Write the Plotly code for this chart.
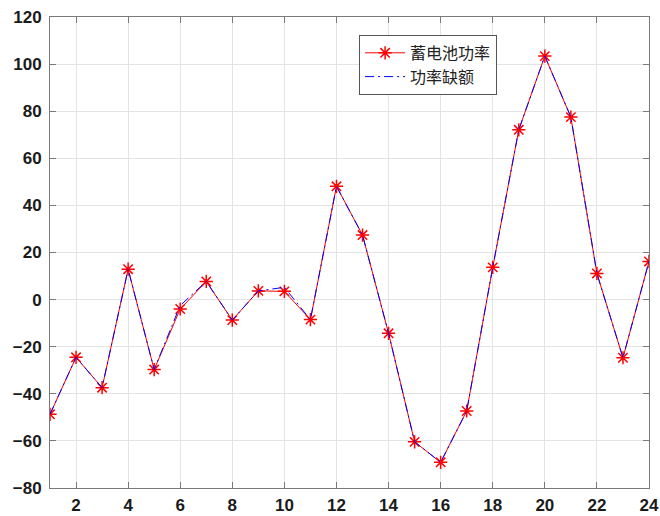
import plotly.graph_objects as go

# Hourly data (1..24)
hours = list(range(1, 25))
battery_power = [-48.7, -24.5, -37.4, 12.9, -29.7, -4.0, 7.7, -8.7, 3.7, 3.5,
                 -8.5, 48.1, 27.4, -14.3, -60.4, -69.1, -47.3, 13.7, 72.1, 103.4,
                 77.5, 11.1, -24.7, 16.2]
power_deficit = [-48.7, -24.5, -37.4, 12.9, -29.7, -2.5, 7.7, -8.7, 3.7, 5.2,
                 -8.5, 48.1, 27.4, -14.3, -60.4, -69.1, -47.3, 13.7, 72.1, 103.4,
                 77.5, 11.1, -24.7, 16.2]
x_ticks = list(range(2, 25, 2))
y_ticks = list(range(-80, 121, 20))

fig = go.Figure()
fig.add_trace(go.Scatter(
    x=hours, y=battery_power, name="蓄电池功率", mode="lines+markers",
    line=dict(color="#ff0000", width=1),
    marker=dict(symbol="asterisk-open", size=11,
                line=dict(color="#ff0000", width=1.5)),
))
fig.add_trace(go.Scatter(
    x=hours, y=power_deficit, name="功率缺额", mode="lines",
    line=dict(color="#0000ff", width=1, dash="9px,4px,2px,4px"),
))

axis_common = dict(
    showgrid=True, gridcolor="#e3e3e3", gridwidth=1,
    showline=True, linecolor="#7a7a7a", linewidth=1, mirror="ticks",
    ticks="inside", ticklen=6, tickcolor="#7a7a7a", tickwidth=1,
    zeroline=False, automargin=False,
    tickfont=dict(family="Liberation Sans, Arial", size=17, color="#1a1a1a",
                  weight="bold"),
)

fig.update_xaxes(range=[1, 24], tickvals=x_ticks, ticklabelstandoff=2,
                 **axis_common)
fig.update_yaxes(range=[-80, 120], tickvals=y_ticks, ticklabelstandoff=4,
                 **axis_common)

fig.update_layout(
    width=660, height=516,
    margin=dict(l=50, r=11, t=17, b=28),
    paper_bgcolor="white", plot_bgcolor="white",
    showlegend=True,
    legend=dict(
        x=0.516, y=0.962, xanchor="left", yanchor="top",
        bgcolor="white", bordercolor="#555555", borderwidth=1,
        font=dict(family="Noto Sans CJK SC", size=16, color="#222222"),
        tracegroupgap=0, itemwidth=40,
    ),
)

fig.write_html("out.html")
